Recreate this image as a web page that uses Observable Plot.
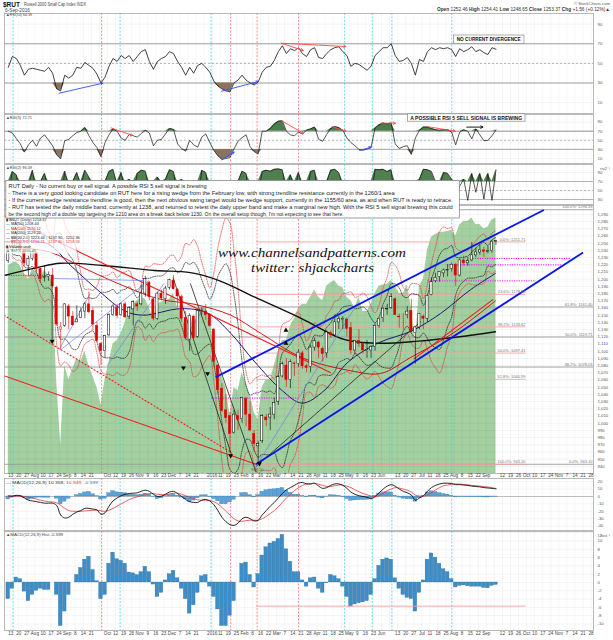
<!DOCTYPE html>
<html>
<head>
<meta charset="utf-8">
<script src="https://cdn.jsdelivr.net/npm/d3@7"></script>
<script src="https://cdn.jsdelivr.net/npm/@observablehq/plot@0.6"></script>
<style>
html,body{margin:0;padding:0;background:#fff;}
#wrap{position:relative;width:613px;height:640px;overflow:hidden;background:#fff;}
#wrap svg{position:absolute;left:0;}
</style>
</head>
<body>
<div id="wrap"></div>
<script>
// ---------------- DATA (half-week candles, Jul 2015 - Sep 6 2016) ----------------
const open = [
1225,1240,1246,1250,1240,1218,1228,1236,1214,1202,1203,1205,1188,1130,1135,1162,1148,1140,1146,1155,
1165,1156,1135,1110,1100,1122,1150,1160,1150,1165,1148,1158,1165,1165,1180,1195,1172,1145,1180,1172,
1188,1198,1185,1175,1146,1116,1148,1120,1156,1155,1150,1130,1080,1048,1018,1010,987,1010,1006,1034,
1012,985,968,975,1008,1008,1012,1030,1065,1080,1060,1083,1082,1097,1079,1078,1105,1112,1103,1097,
1125,1122,1140,1143,1144,1132,1101,1114,1110,1100,1101,1106,1135,1146,1158,1160,1172,1148,1146,1150,
1156,1125,1133,1148,1145,1178,1197,1203,1208,1212,1214,1220,1205,1226,1222,1226,1233,1237,1240,1238,
1239,1252];
const high = [
1245,1258,1262,1254,1242,1232,1240,1238,1215,1218,1210,1215,1190,1140,1166,1165,1155,1163,1160,1168,
1182,1160,1140,1112,1122,1152,1165,1165,1167,1168,1162,1170,1168,1192,1204,1197,1174,1182,1185,1190,
1200,1205,1187,1178,1155,1152,1150,1158,1160,1165,1152,1132,1082,1055,1040,1015,1018,1018,1036,1036,
1030,990,975,1012,1012,1022,1035,1066,1085,1090,1088,1085,1102,1100,1082,1108,1118,1114,1106,1128,
1128,1150,1148,1148,1146,1140,1115,1130,1112,1115,1108,1138,1146,1160,1165,1180,1174,1152,1152,1162,
1172,1133,1152,1150,1178,1202,1208,1210,1214,1220,1222,1222,1228,1232,1230,1251,1243,1248,1244,1245,
1253,1254];
const low = [
1222,1238,1240,1238,1218,1205,1225,1210,1195,1196,1197,1188,1135,1101,1133,1130,1135,1140,1145,1145,
1152,1128,1112,1080,1090,1120,1148,1145,1148,1145,1144,1135,1155,1163,1175,1170,1142,1143,1170,1165,
1185,1185,1160,1140,1115,1100,1115,1118,1150,1143,1133,1078,1040,1015,1000,958,985,990,1000,995,
988,960,943,972,995,990,1005,1025,1063,1050,1048,1065,1078,1075,1070,1070,1100,1090,1085,1090,
1118,1120,1130,1130,1120,1095,1095,1105,1096,1090,1090,1100,1132,1140,1150,1158,1150,1132,1130,1145,
1127,1082,1130,1130,1140,1177,1195,1196,1202,1203,1210,1190,1203,1218,1218,1224,1230,1233,1230,1235,
1236,1247];
const close = [
1240,1245,1253,1240,1222,1228,1238,1214,1200,1203,1206,1190,1137,1133,1165,1148,1136,1144,1155,1165,
1154,1137,1114,1100,1121,1150,1162,1149,1165,1147,1160,1168,1162,1180,1200,1175,1145,1180,1173,1187,
1199,1186,1176,1145,1118,1149,1118,1156,1156,1150,1135,1085,1046,1017,1007,985,1012,1005,1035,1012,
990,971,971,1010,1004,1012,1028,1064,1082,1060,1085,1082,1098,1079,1077,1105,1114,1105,1096,1126,
1122,1140,1145,1145,1131,1101,1114,1110,1101,1102,1106,1135,1145,1159,1159,1175,1150,1147,1146,1155,
1127,1133,1152,1145,1177,1196,1202,1210,1212,1213,1220,1205,1226,1222,1225,1233,1237,1240,1238,1239,
1252,1253];
// $SPX overlay (green area), read in price-axis units
const spxOverlay = [
1219,1222,1224,1218,1206,1200,1214,1210,1203,1212,1205,1195,1060,970,1080,1060,1075,1090,1085,1100,
1080,1065,1050,1025,1060,1085,1110,1115,1125,1140,1160,1165,1170,1175,1172,1160,1145,1165,1168,1170,
1172,1180,1160,1155,1130,1150,1135,1155,1162,1160,1145,1110,1080,1065,1050,1010,1050,1045,1070,1055,
1040,1015,1005,1050,1060,1060,1080,1100,1115,1115,1135,1145,1160,1165,1165,1175,1185,1175,1170,1190,
1195,1198,1190,1188,1175,1170,1160,1175,1155,1155,1165,1180,1190,1192,1193,1198,1190,1180,1180,1192,
1160,1110,1190,1200,1240,1258,1262,1265,1265,1266,1268,1260,1275,1280,1280,1285,1276,1276,1270,1272,
1282,1285];
const rsi14 = [
46,57,55,48,38,44,45,44,43,42,46,40,24,22,38,35,38,46,45,51,
48,45,39,30,36,47,55,52,58,55,58,52,57,62,64,52,44,52,55,57,
62,60,52,46,38,46,40,48,50,46,41,32,27,24,22,21,30,33,38,33,
30,28,31,41,46,47,53,62,68,60,65,63,66,60,57,64,66,56,55,60,
64,66,67,62,58,47,50,49,46,43,47,58,62,66,66,70,58,52,53,56,
50,38,54,52,62,66,64,66,65,66,64,57,65,62,64,67,62,64,61,59,
66,64.39];
const rsi5 = [
70,66,54,42,24,40,50,37,55,62,50,38,18,9,49,52,60,67,70,78,
60,45,34,14,45,62,75,70,55,50,63,60,57,65,72,66,38,50,52,64,
76,74,42,32,26,50,40,35,57,64,45,28,16,8,10,12,31,48,56,62,
36,25,20,70,70,76,86,92,93,70,62,60,68,64,72,75,79,52,48,63,
76,80,78,72,55,45,38,30,28,31,34,77,84,88,86,88,42,32,36,38,
19,55,72,79,79,76,73,72,73,73,68,40,68,73,70,53,75,62,49,50,
60,72.71];
const rsi2 = [
40,92,85,30,15,60,95,40,70,88,45,35,10,8,93,60,70,90,60,95,
80,30,20,10,70,92,97,60,90,45,75,40,88,95,93,55,15,80,65,75,
96,92,30,75,15,60,35,25,95,90,30,15,8,10,12,30,50,70,93,88,
20,15,40,92,95,93,97,98,96,45,85,50,90,55,40,92,95,25,40,70,
95,97,90,60,35,20,45,30,25,40,35,97,96,97,92,96,15,30,45,60,
10,55,75,97,96,92,70,60,90,88,75,12,60,75,28,88,46,88,31,88,
28,96.09];
const macd = [
1,0.5,1.5,1,-2,-5,-6,-7,-8,-9,-9,-9,-12,-25,-29,-28,-24,-21,-19,-16,
-16,-17,-18,-24,-22,-13,-6,-2,1,3,4,4.5,5,7,8.5,7,3,0,0.5,3,
6,7,4,0,-4,-7,-8,-8,-5,-4,-6,-11,-19,-28,-34,-38,-39,-36,-30,-28,
-30,-33,-32,-25,-19,-13,-8,-2,4,9,12,15,18,19,17,17,18,14,11,12,
15,17,17,15,11,6,3,1,0,-1,-3,0,5,10,14,16,14,10,7,5,
2,-5,-2,1,7,12,15,17,18,18,17.5,16,16,15.5,15,14,13.5,13,12,11.5,
11,10.358];
const macdSignal = [
0,0.5,0.5,0.5,0,-1,-2,-3.5,-5,-6,-7,-7.5,-8.5,-12,-16,-19,-20,-20,-20,-19.5,
-19,-18.5,-18.5,-19.5,-20,-18.5,-16,-13,-10,-7,-4,-2,-0.5,1,3,4,4,3,2.5,2.5,
3.5,4.5,4.5,3,1,-1,-3,-4.5,-5,-5,-5.5,-7,-10,-14.5,-20,-25,-30,-33,-33.5,-32.5,
-32,-32,-32,-30,-27,-23,-19,-14,-8,-2,3,8,12,15,17,17,17.5,16.5,15,13.5,
13.5,14.5,15.5,15.5,14,12,9,6.5,4,2.5,0.5,-0.5,1,4,8,10,12,11.5,10,8.5,
6,2,0.5,0.5,2,5,9,12,14.5,15.5,16.5,17,16.8,16.2,15.9,15,14.5,14,13.3,12.9,
11.8,10.949];
const macdHist = [
-4,-1.5,1.2,0.8,-2.2,-4.5,-3,-2,-1.5,-1.8,-1.8,0,-3,-10.5,-7,-3,0,1.8,3.5,5.5,
6.2,3,0.3,-4,-3,4.5,7.2,5.6,5.2,4.5,2.4,2.2,1.8,2.5,3.8,2.5,-0.5,-3.5,-2.5,0.5,
2,2.8,1,-1.5,-4,-7.5,-5.5,-2.5,1.5,1.8,-1,-3.5,-6.5,-10.5,-10.5,-8,-4.5,0,4.5,4.8,
1.8,-1.2,2,6.5,8.5,9.4,9.8,10.5,11.5,8,5,2.5,2.5,0.5,-1,1,1.2,-1.5,-2.5,-0.2,
1.8,1.5,0.8,-1,-3.5,-5.8,-5.3,-5,-4.8,-4.5,-3,0.8,4,5.5,5.8,5.5,1,-1.5,-3,-3.7,
-4,-7,-2.5,0.5,5.5,7,6,4.5,3.2,2.5,0.8,-1.2,-0.8,-0.7,-0.9,-1,-1,-1,-1.3,-1.4,
-0.8,-0.599];
// moving averages
const ma50Pts = [["2015-07-07",1252],["2015-08-14",1249],["2015-09-03",1219],["2015-09-28",1183],["2015-10-20",1156],["2015-11-05",1150],["2015-12-08",1159],["2015-12-31",1153],["2016-01-20",1125],["2016-02-10",1085],["2016-03-05",1045],["2016-03-22",1028],["2016-04-10",1045],["2016-05-01",1085],["2016-05-28",1112],["2016-06-25",1128],["2016-07-20",1152],["2016-08-15",1185],["2016-09-06",1208]];
const ma100Pts = [["2015-07-07",1245],["2015-08-15",1238],["2015-09-15",1215],["2015-10-20",1190],["2015-11-20",1172],["2015-12-20",1165],["2016-01-20",1150],["2016-02-15",1125],["2016-03-22",1091],["2016-05-03",1073],["2016-05-29",1069],["2016-06-24",1091],["2016-08-01",1126],["2016-09-06",1170]];
const ma200Pts = [["2015-07-07",1205],["2015-08-05",1216],["2015-08-25",1222],["2015-10-01",1219],["2015-11-15",1212],["2015-12-16",1209],["2016-01-10",1198],["2016-02-10",1175],["2016-03-22",1145],["2016-04-28",1116],["2016-05-28",1111],["2016-07-01",1114],["2016-08-01",1119],["2016-09-06",1127]];
// trend lines [start date, start price, end date, end price]
const channelLines = [["2016-01-07",1064,"2016-10-18",1296],["2016-02-11",943,"2016-11-21",1237]];
const redLines = [["2015-07-07",1288,"2016-04-16",1070],["2015-07-07",1066,"2016-02-11",943],["2016-06-27",1089,"2016-09-04",1172]];
const redDotLines = [["2015-07-07",1150,"2016-01-21",959]];
const blackLines = [["2015-12-01",1202,"2016-01-21",955],["2015-12-16",1194,"2016-02-11",932],["2016-02-11",940,"2016-07-03",1141]];
const blueThinLines = [["2015-08-25",1105,"2015-09-20",1180],["2015-08-19",1201,"2015-11-05",1198],["2015-08-27",1104,"2015-11-10",1198],["2015-10-05",1080,"2015-11-23",1194],["2016-02-11",940,"2016-05-09",1166],["2015-12-10",1115,"2015-12-28",1161]];
const magentaLines = [["2015-07-07",1205,"2015-08-18",1205],["2016-01-03",1035,"2016-03-20",1035],["2016-08-15",1228.6,"2016-11-10",1228.6],["2016-07-26",1219.8,"2016-11-03",1219.8],["2016-07-09",1197.6,"2016-10-11",1197.6]];
const fibPink = [[1251.71,"0.0%: 1251.71"],[1178.88,"23.6%: 1178.88"],[1133.82,"38.2%: 1133.82"],[1097.41,"50.0%: 1097.41"],[1060.99,"61.8%: 1060.99"],[943.10,"100.0%: 943.10"]];
const fibGray = [[1296.33,"100.0%: 1296.33"],[1161.40,"61.8%: 1161.40"],[1119.71,"50.0%: 1119.71"],[1078.03,"38.2%: 1078.03"],[943.10,"0.0%: 943.10"]];
const markersDown = [["2015-08-18",1114],["2015-12-10",1077],["2015-12-31",1069],["2016-01-20",955],["2016-02-14",944]];
const markersUp = [["2016-03-08",1129],["2016-03-08",1111]];
const rsi14Arrows = [["2015-08-24",19.6,"2015-10-01",29.8,"#2f4fff"],["2016-01-12",21.6,"2016-02-13",31.5,"#2f4fff"],["2016-03-04",70.6,"2016-03-23",63.2,"#ff4a4a"],["2016-03-04",70.6,"2016-04-29",67.2,"#ff4a4a"]];
const rsi5Arrows = [["2015-10-08",77.3,"2015-10-27",60.5,"#ff4a4a"],["2016-03-04",93.4,"2016-03-23",65.6,"#ff4a4a"],["2016-04-17",80,"2016-04-29",70,"#ff4a4a"],["2016-01-12",7,"2016-01-23",24,"#2f4fff"],["2016-05-11",27.5,"2016-05-21",35,"#2f4fff"],["2016-05-30",87.6,"2016-06-11",87.6,"#ff4a4a"],["2016-07-09",80,"2016-08-02",70,"#ff4a4a"],["2016-08-12",79,"2016-08-26",79,"#000"]];
const vRed = ["2015-09-30","2016-01-20","2016-02-12","2016-03-19"];
const vCyan = ["2015-07-15","2015-10-16","2016-01-03","2016-04-28","2016-05-22","2016-06-08","2016-07-30"];
const xTickLabels = ["13","20","27","Aug","10","17","24","Sep","8","14","21","","Oct","12","19","26","Nov","9","16","23","Dec","7","14","21","","2016","11","19","25","Feb","8","16","22","Mar","7","14","21","28","Apr","11","18","25","May","9","16","23","Jun","","13","20","27","Jul","11","18","25","Aug","8","15","22","Sep","","12","19","26","Oct","10","17","24","Nov","7","14","21","28"];
const priceTicks = d3.range(940, 1291, 10);
const rsiTicks = [10,30,50,70,90];
const rsi2Ticks = [30,50,70,90];
const macdTicks = [-40,-30,-20,-10,0,10,20];
const histTicks = d3.range(-10, 13, 2);

// ---------------- SETUP ----------------
const DAY = 864e5;
const D = s => new Date(s);
const wrap = document.getElementById("wrap");
const F = "Liberation Sans, Arial, sans-serif";
const periodOrigin = Date.parse("2015-07-06");
const dates = close.map((_, i) => new Date(periodOrigin + (4.9 + 3.5 * i) * DAY));
const rows = close.map((c, i) => ({
  date: dates[i], open: open[i], high: high[i], low: low[i], close: c,
  prev: i ? close[i - 1] : open[i], spx: spxOverlay[i], rsi14: rsi14[i], rsi5: rsi5[i], rsi2: rsi2[i],
  macd: macd[i], signal: macdSignal[i], hist: macdHist[i]
}));
const X0 = Date.parse("2015-07-13");
const xDomain = [new Date(X0 - (10.2 - 4) / 1.1516 * DAY), new Date(X0 + (593 - 10.2) / 1.1516 * DAY)];
const weeks = d3.utcMonday.range(D("2015-07-13"), D("2016-11-29"));
const weekLabel = new Map(weeks.map((d, i) => [+d, xTickLabels[i] || ""]));
const pts = arr => arr.map(([d, v]) => ({date: D(d), v}));
const segs = arr => arr.map(([a, b, c, e, col]) => ({x1: D(a), y1: b, x2: D(c), y2: e, col}));

function panel(top, height, mt, mb, yDomain, marks) {
  const svg = Plot.plot({
    width: 613, height, marginLeft: 4, marginRight: 20, marginTop: mt, marginBottom: mb,
    x: {type: "utc", domain: xDomain, axis: null},
    y: {type: "linear", domain: yDomain, axis: null},
    style: {fontFamily: F, fontSize: "5px", background: "transparent", overflow: "visible", color: "#444"},
    marks
  });
  svg.style.top = top + "px";
  wrap.appendChild(svg);
}
const grid = ticks => [
  Plot.ruleX(weeks, {stroke: "#000", strokeOpacity: 0.07, strokeWidth: 0.6}),
  Plot.ruleY(ticks, {stroke: "#000", strokeOpacity: 0.08, strokeWidth: 0.6})
];
const vlines = () => [
  Plot.ruleX(vRed.map(D), {stroke: "#f07070", strokeDasharray: "2,1.5", strokeWidth: 0.8}),
  Plot.ruleX(vCyan.map(D), {stroke: "#3fd6de", strokeDasharray: "2,1.5", strokeWidth: 0.8})
];
const yAxis = (ticks, dy = 0) => Plot.axisY(ticks, {anchor: "right", tickSize: 0, tickPadding: 4, fontSize: 4.3, fill: "#555", dy, tickFormat: d => d});
const frame = () => Plot.frame({stroke: "#a8a8a8", strokeWidth: 0.8});
const arrows = data => Plot.arrow(segs(data), {x1: "x1", y1: "y1", x2: "x2", y2: "y2", stroke: "col", strokeWidth: 0.9, headLength: 4});

// ---------------- RSI(14) ----------------
panel(12, 101, 1, 0, [-1.1, 100.9], [
  ...grid(rsiTicks), ...vlines(),
  Plot.ruleY([70, 30], {stroke: "#a0a0a0", strokeWidth: 1}),
  Plot.ruleY([50], {stroke: "#a0a0a0", strokeDasharray: "2,2", strokeWidth: 0.8}),
  Plot.areaY(rows, {x: "date", y1: d => Math.min(30, d.rsi14), y2: 30, fill: "#8b7362"}),
  Plot.lineY(rows, {x: "date", y: "rsi14", stroke: "#111", strokeWidth: 0.8}),
  arrows(rsi14Arrows),
  frame(), yAxis(rsiTicks)
]);
// ---------------- RSI(5) ----------------
panel(113, 50, 1, 0, [-1, 106.7], [
  ...grid(rsiTicks), ...vlines(),
  Plot.ruleY([70, 30], {stroke: "#b4b4b4", strokeWidth: 1.4}),
  Plot.ruleY([50], {stroke: "#a0a0a0", strokeDasharray: "2,2", strokeWidth: 0.7}),
  Plot.areaY(rows, {x: "date", y1: 70, y2: d => Math.max(70, d.rsi5), fill: "#4d7c4d"}),
  Plot.areaY(rows, {x: "date", y1: d => Math.min(30, d.rsi5), y2: 30, fill: "#8b7362"}),
  Plot.lineY(rows, {x: "date", y: "rsi5", stroke: "#111", strokeWidth: 0.7}),
  arrows(rsi5Arrows),
  frame(), yAxis(rsiTicks)
]);
// ---------------- RSI(2) ----------------
panel(163, 41, 1, 0, [18.9, 107.8], [
  ...grid(rsi2Ticks), ...vlines(),
  Plot.ruleY([70, 30], {stroke: "#b4b4b4", strokeWidth: 1.2}),
  Plot.ruleY([50], {stroke: "#a0a0a0", strokeDasharray: "2,2", strokeWidth: 0.7}),
  Plot.areaY(rows, {x: "date", y1: 70, y2: d => Math.max(70, d.rsi2), fill: "#507f50", clip: true}),
  Plot.lineY(rows, {x: "date", y: "rsi2", stroke: "#111", strokeWidth: 0.7, clip: true}),
  frame(), yAxis(rsi2Ticks)
]);
// ---------------- PRICE ----------------
const candleCol = d => d.close < d.prev ? "#e00000" : "#000";
const bb = (k, m) => v => (v.length < 2 ? NaN : d3.mean(v) + m * d3.deviation(v));
panel(204, 274, 1, 5, [930.3, 1302.2], [
  Plot.areaY(rows, {x: "date", y1: 930.3, y2: "spx", fill: "#a3d0a0"}),
  ...grid(priceTicks), ...vlines(),
  Plot.ruleY(fibGray.map(d => d[0]), {stroke: "#9a9a9a", strokeWidth: 0.9}),
  Plot.link(fibPink, {x1: D("2016-02-11"), x2: D("2016-10-02"), y1: d => d[0], y2: d => d[0], stroke: "#f4a4a4", strokeWidth: 0.9}),
  Plot.link(segs(magentaLines), {x1: "x1", y1: "y1", x2: "x2", y2: "y2", stroke: "#ff00ff", strokeWidth: 1, strokeDasharray: "1.2,1.2", clip: true}),
  Plot.lineY(rows, Plot.windowY({k: 8, anchor: "end", reduce: bb(8, 3)}, {x: "date", y: "close", stroke: "#e03030", strokeWidth: 0.7, strokeDasharray: "1,1.3", curve: "catmull-rom", clip: true})),
  Plot.lineY(rows, Plot.windowY({k: 8, anchor: "end", reduce: bb(8, -3)}, {x: "date", y: "close", stroke: "#e03030", strokeWidth: 0.7, strokeDasharray: "1,1.3", curve: "catmull-rom", clip: true})),
  Plot.lineY(rows, Plot.windowY({k: 8, anchor: "end", reduce: bb(8, 2)}, {x: "date", y: "close", stroke: "#111", strokeWidth: 0.7, strokeDasharray: "1,1.3", curve: "catmull-rom", clip: true})),
  Plot.lineY(rows, Plot.windowY({k: 8, anchor: "end", reduce: bb(8, -2)}, {x: "date", y: "close", stroke: "#111", strokeWidth: 0.7, strokeDasharray: "1,1.3", curve: "catmull-rom", clip: true})),
  Plot.lineY(pts(ma200Pts), {x: "date", y: "v", stroke: "#111", strokeWidth: 1.4, curve: "catmull-rom", clip: true}),
  Plot.lineY(pts(ma100Pts), {x: "date", y: "v", stroke: "#d40000", strokeWidth: 0.9, curve: "catmull-rom", clip: true}),
  Plot.lineY(pts(ma50Pts), {x: "date", y: "v", stroke: "#1b1b70", strokeWidth: 1, curve: "catmull-rom", clip: true}),
  Plot.link(segs(redLines), {x1: "x1", y1: "y1", x2: "x2", y2: "y2", stroke: "#ee1c1c", strokeWidth: 1.1, clip: true}),
  Plot.link(segs(redDotLines), {x1: "x1", y1: "y1", x2: "x2", y2: "y2", stroke: "#ee1c1c", strokeWidth: 1.1, strokeDasharray: "2,1.5", clip: true}),
  Plot.link(segs(blackLines), {x1: "x1", y1: "y1", x2: "x2", y2: "y2", stroke: "#222", strokeWidth: 0.8, clip: true}),
  Plot.link(segs(blueThinLines), {x1: "x1", y1: "y1", x2: "x2", y2: "y2", stroke: "#6a82ee", strokeWidth: 0.7, clip: true}),
  Plot.ruleX(rows, {x: "date", y1: "low", y2: "high", stroke: candleCol, strokeWidth: 0.6}),
  Plot.rect(rows, {x1: d => new Date(+d.date - 0.95 * DAY), x2: d => new Date(+d.date + 0.95 * DAY), y1: "open", y2: "close",
    fill: d => d.close < d.open ? candleCol(d) : "#fff", stroke: candleCol, strokeWidth: 0.5}),
  Plot.link(segs(channelLines), {x1: "x1", y1: "y1", x2: "x2", y2: "y2", stroke: "#0a14f0", strokeWidth: 1.8, clip: true}),
  Plot.ruleX([{d: D("2015-08-18")}], {x: "d", y1: 1195, y2: 1116, stroke: "#222", strokeWidth: 0.7}),
  Plot.dot(pts(markersDown), {x: "date", y: "v", symbol: "triangle", r: 1.8, fill: "#000", rotate: 180}),
  Plot.dot(pts(markersUp), {x: "date", y: "v", symbol: "triangle", r: 1.8, fill: "#000"}),
  Plot.text([{d: D("2016-02-12"), v: 935}], {x: "d", y: "v", text: () => "943.10", fontSize: 4, fill: "#555"}),
  Plot.text(fibPink, {x: D("2016-10-02"), y: d => d[0], text: d => d[1], textAnchor: "end", dy: -2.6, fontSize: 4, fill: "#777"}),
  Plot.text(fibGray, {x: xDomain[1], y: d => d[0], text: d => d[1], textAnchor: "end", dy: -2.6, dx: -1, fontSize: 4, fill: "#777"}),
  frame(), yAxis(priceTicks),
  Plot.axisX(weeks, {anchor: "bottom", tickSize: 0, tickPadding: 0.5, fontSize: 4.6, fill: "#444", tickFormat: d => weekLabel.get(+d)})
]);
// ---------------- MACD ----------------
const histRect = {x1: d => new Date(+d.date - 1.6 * DAY), x2: d => new Date(+d.date + 1.6 * DAY), y1: 0, y2: "hist"};
panel(478, 52, 0, 0, [-45.9, 24.3], [
  ...grid(macdTicks), ...vlines(),
  Plot.ruleY([0], {stroke: "#999", strokeWidth: 0.6}),
  Plot.rect(rows, {...histRect, fill: "#5aa2d6", stroke: "#2f76a8", strokeWidth: 0.3}),
  Plot.lineY(rows, {x: "date", y: "signal", stroke: "#e23b3b", strokeWidth: 0.8, curve: "catmull-rom"}),
  Plot.lineY(rows, {x: "date", y: "macd", stroke: "#111", strokeWidth: 0.9, curve: "catmull-rom"}),
  frame(), yAxis(macdTicks.filter(t => t > -40)),
  Plot.text([-40], {frameAnchor: "right", y: d => d, text: d => String(d), dx: 4, dy: -0.8, textAnchor: "start", fontSize: 3.9, fill: "#555"})
]);
// ---------------- MACD Hist ----------------
panel(530, 110, 1, 10, [-11.57, 12.29], [
  ...grid(histTicks), ...vlines(),
  Plot.rect(rows, {...histRect, fill: "#3f8dc6", stroke: "#2b6a98", strokeWidth: 0.3}),
  Plot.link([{a: D("2016-02-11"), b: D("2016-10-02")}], {x1: "a", x2: "b", y1: -5.71, y2: -5.71, stroke: "#f2a0a0", strokeWidth: 0.9}),
  frame(), yAxis(histTicks.filter(t => t < 12)),
  Plot.text([12], {frameAnchor: "right", y: d => d, text: d => String(d), dx: 4, dy: 2.6, textAnchor: "start", fontSize: 3.9, fill: "#555"}),
  Plot.axisX(weeks, {anchor: "bottom", tickSize: 0, tickPadding: 1, fontSize: 4.6, fill: "#444", tickFormat: d => weekLabel.get(+d)})
]);

// ---------------- TEXT OVERLAY ----------------
const ov = d3.select(wrap).append("svg").attr("width", 613).attr("height", 640)
  .style("top", "0px").style("font-family", F);
function T(x, y, s, o = {}) {
  const t = ov.append("text").attr("x", x).attr("y", y).text(s)
    .attr("font-size", o.size || 5).attr("fill", o.fill || "#222")
    .attr("font-weight", o.bold ? "bold" : "normal").attr("text-anchor", o.anchor || "start");
  if (o.len) t.attr("textLength", o.len).attr("lengthAdjust", "spacingAndGlyphs");
  if (o.italic) t.attr("font-style", "italic");
  if (o.family) t.attr("font-family", o.family);
  return t;
}
// header
T(3, 6.5, "$RUT", {size: 6.5, bold: true, fill: "#111"});
T(24, 5.6, "Russell 2000 Small Cap Index INDX", {size: 4.5, fill: "#444", len: 62});
T(5, 11.6, "6-Sep-2016", {size: 4.5, fill: "#444", len: 25});
T(610, 5, "© StockCharts.com", {size: 4.3, fill: "#555", anchor: "end", len: 36});
{
  const t = ov.append("text").attr("x", 437).attr("y", 10.8).attr("font-size", 4.6).attr("fill", "#333")
    .attr("textLength", 173).attr("lengthAdjust", "spacingAndGlyphs");
  [["Open ", 1], ["1252.46 ", 0], ["High ", 1], ["1254.41 ", 0], ["Low ", 1], ["1248.65 ", 0], ["Close ", 1], ["1253.37 ", 0], ["Chg ", 1], ["+1.56 (+0.12%)▲", 0]]
    .forEach(([s, b]) => t.append("tspan").attr("font-weight", b ? "bold" : "normal").text(s));
}
// panel labels
T(6, 16, "▲RSI(14) 64.39", {size: 4.4, fill: "#444", len: 26});
T(6, 118.5, "▲RSI(5) 72.71", {size: 4.4, fill: "#444", len: 26});
T(6, 168.8, "▲RSI(2) 96.09", {size: 4.4, fill: "#444", len: 26});
{
  const t = ov.append("text").attr("x", 6).attr("y", 484.3).attr("font-size", 4.4)
    .attr("textLength", 92).attr("lengthAdjust", "spacingAndGlyphs");
  [["— MACD(12,26,9) 10.358, ", "#333"], ["10.949, ", "#e23b3b"], ["-0.599", "#2f76a8"]]
    .forEach(([s, c]) => t.append("tspan").attr("fill", c).text(s));
}
T(6, 536, "▲MACD(12,26,9) Hist -0.599", {size: 4.4, fill: "#444", len: 57});
// price legend
ov.append("rect").attr("x", 4.5).attr("y", 216.5).attr("width", 72).attr("height", 37).attr("fill", "#fff").attr("fill-opacity", 0.75);
[["▮ $RUT (Daily) 1253.37", "#222"], ["— MA(50) 1208.40", "#1b1b70"], ["— MA(100) 1170.12", "#d40000"], ["— MA(200) 1129.22", "#222"],
 ["— BB(20,2.0) 1223.44 - 1237.90 - 1252.36", "#222"], ["— BB(20,3.0) 1216.21 - 1237.90 - 1259.59", "#e03030"], ["▮ Volume undr", "#222"], ["▲ $SPX 2186.48", "#3f8f3f"]]
  .forEach(([s, c], i) => T(6, 220.5 + i * 4.5, s, {size: 3.9, fill: c}));
// annotation boxes
ov.append("rect").attr("x", 453.5).attr("y", 35).attr("width", 70.5).attr("height", 8.5).attr("fill", "#fff").attr("stroke", "#888").attr("stroke-width", 0.7);
T(488.7, 41.3, "NO CURRENT DIVERGENCE", {size: 5.4, bold: true, anchor: "middle", fill: "#111", len: 64});
ov.append("rect").attr("x", 407.5).attr("y", 113.8).attr("width", 117.5).attr("height", 7.4).attr("fill", "#fff").attr("stroke", "#888").attr("stroke-width", 0.7);
T(466.2, 119.6, "A POSSIBLE RSI 5 SELL SIGNAL IS BREWING", {size: 5.2, bold: true, anchor: "middle", fill: "#111", len: 112});
ov.append("rect").attr("x", 5.8).attr("y", 180.5).attr("width", 453.5).attr("height", 37.5).attr("fill", "#fff").attr("stroke", "#888").attr("stroke-width", 0.8);
const noteLines = [
  ["RUT Daily - No current buy or sell signal. A possible RSI 5 sell signal is brewing", 198],
  ["- There is a very good looking candidate on RUT here for a rising wedge from the February low, with strong trendline resistance currently in the 1260/1 area", 386],
  ["- If the current wedge resistance trendline is good, then the next obvious swing target would be wedge support, currently in the 1155/60 area, as and when RUT is ready to retrace.", 444],
  ["- RUT has tested the daily middle band, currently at 1238, and returned to retest the daily upper band and make a marginal new high. With the RSI 5 sell signal brewing this could", 444],
  ["be the second high of a double top targeting the 1210 area on a break back below 1230. On the overall setup though, I'm not expecting to see that here.", 335]
];
noteLines.forEach(([s, w], i) => T(8.6, 187.8 + i * 7, s, {size: 5.3, fill: "#1a1a1a", len: w}));
// watermark
T(218, 256.5, "www.channelsandpatterns.com", {size: 13.5, italic: true, family: "Liberation Serif, DejaVu Serif, serif", fill: "#111", len: 188});
T(251, 272, "twitter: shjackcharts", {size: 13.5, italic: true, family: "Liberation Serif, DejaVu Serif, serif", fill: "#111", len: 123});

// sanity check on array lengths
const lens = [open, high, low, close, spxOverlay, rsi14, rsi5, rsi2, macd, macdSignal, macdHist].map(a => a.length);
if (lens.some(l => l !== 122) || weeks.length !== xTickLabels.length) T(300, 320, "LEN " + lens.join(",") + " w" + weeks.length + "/" + xTickLabels.length, {size: 12, fill: "red"});
</script>
</body>
</html>
